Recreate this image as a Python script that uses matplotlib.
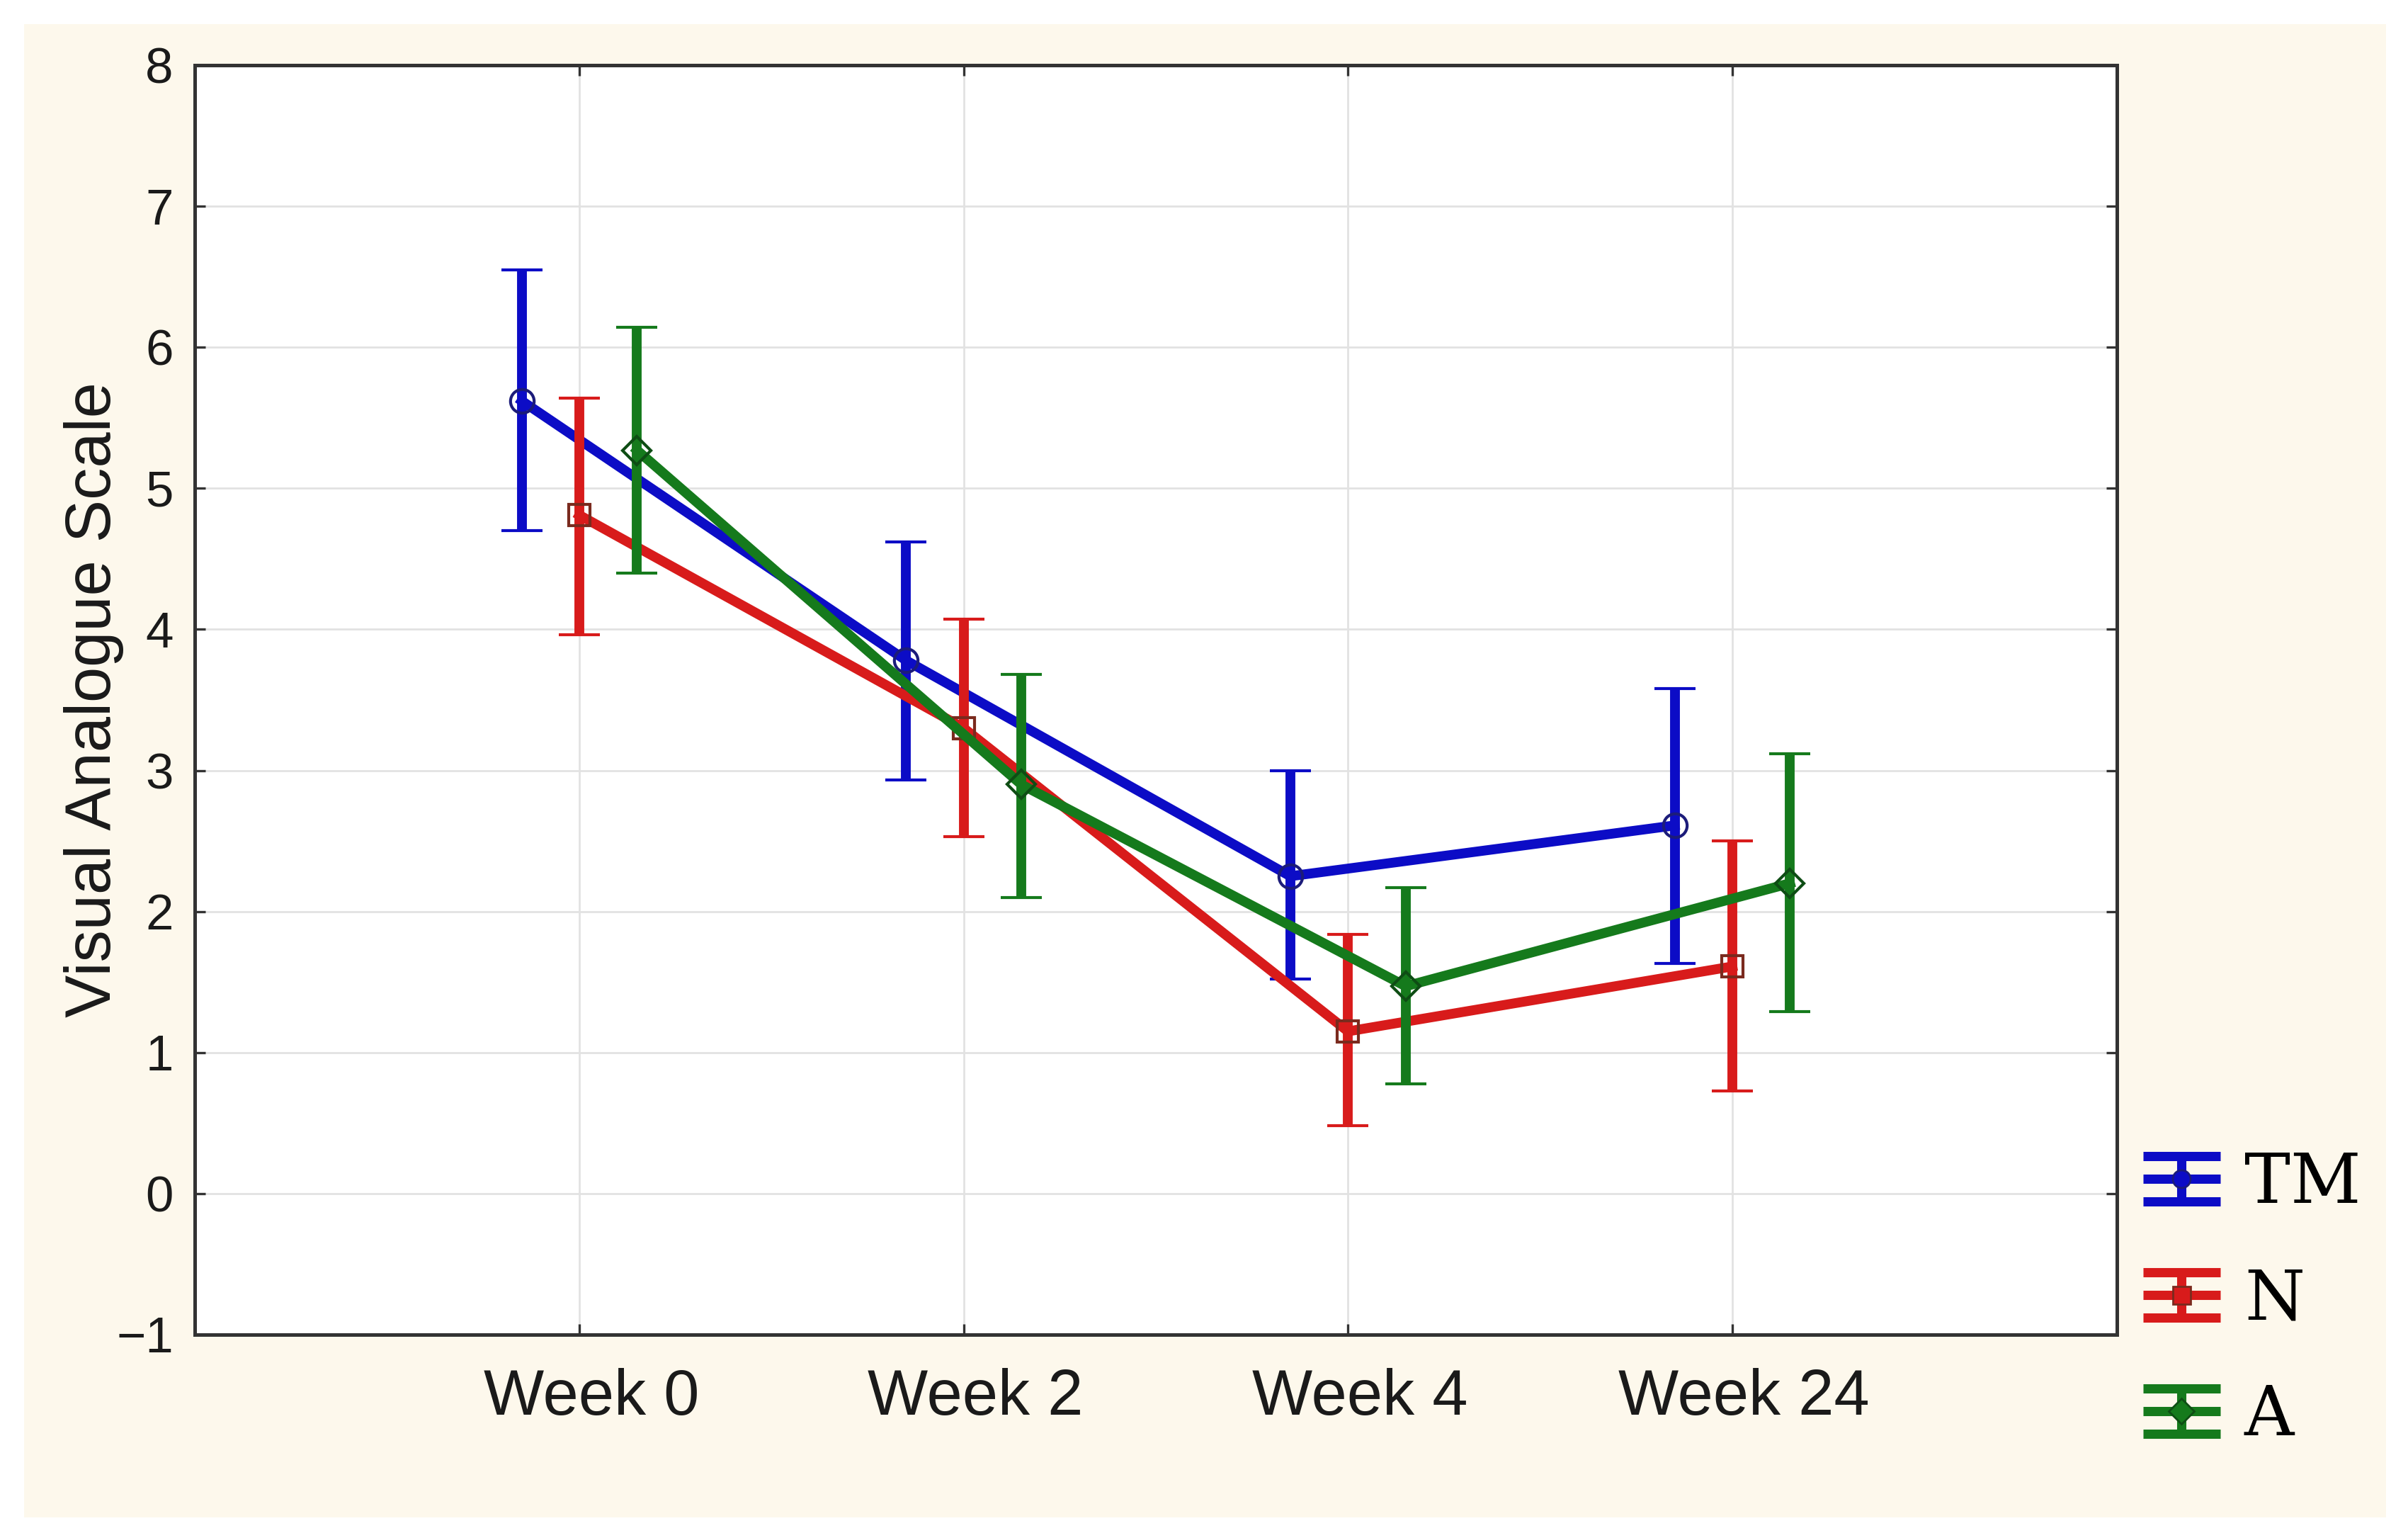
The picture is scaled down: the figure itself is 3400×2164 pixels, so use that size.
import matplotlib
matplotlib.use("Agg")
import matplotlib.pyplot as plt
import numpy as np
from matplotlib.lines import Line2D
from matplotlib.legend_handler import HandlerBase
from matplotlib.patches import Rectangle
from matplotlib.transforms import ScaledTranslation

# ---------------- data ----------------
weeks = ["Week 0", "Week 2", "Week 4", "Week 24"]
groups = ["TM", "N", "A"]

tm_mean = [5.62, 3.78, 2.25, 2.61]
tm_low = [4.70, 2.93, 1.52, 1.63]
tm_high = [6.55, 4.62, 3.00, 3.58]

n_mean = [4.81, 3.30, 1.15, 1.61]
n_low = [3.96, 2.53, 0.48, 0.73]
n_high = [5.64, 4.07, 1.84, 2.50]

a_mean = [5.27, 2.90, 1.47, 2.20]
a_low = [4.40, 2.10, 0.78, 1.29]
a_high = [6.14, 3.68, 2.17, 3.12]

y_ticks = [-1, 0, 1, 2, 3, 4, 5, 6, 7, 8]
y_label = "Visual Analogue Scale"

# ---------------- style ----------------
colors = ["#0c0cc6", "#d81b1b", "#157a1c"]
edge_colors = ["#1c1c7a", "#7a2a1e", "#0e4d14"]
markers = ["o", "s", "D"]
marker_sizes = [12, 11, 10]
offsets = [-0.15, 0.0, 0.15]
LW = 5.0

plt.rcParams["font.family"] = ["Liberation Sans", "DejaVu Sans"]

fig = plt.figure(figsize=(17, 10.82), dpi=200, facecolor="white")
fig.patches.append(Rectangle((0.010, 0.0102), 0.981, 0.974,
                             transform=fig.transFigure,
                             facecolor="#fdf8ec", edgecolor="none", zorder=-10))

ax = fig.add_axes([0.081, 0.1294, 0.798, 0.8281])
ax.set_facecolor("white")

x = np.arange(len(weeks))
series = [(tm_mean, tm_low, tm_high), (n_mean, n_low, n_high), (a_mean, a_low, a_high)]

for i, (mean, low, high) in enumerate(series):
    mean = np.array(mean)
    yerr = [mean - np.array(low), np.array(high) - mean]
    ax.errorbar(x + offsets[i], mean, yerr=yerr, color=colors[i], lw=LW,
                marker=markers[i], ms=marker_sizes[i], mfc="none",
                mec=edge_colors[i], mew=1.5, elinewidth=LW, capsize=10.5,
                capthick=LW, zorder=3 + i)

ax.set_xlim(-1, 4)
ax.set_ylim(-1, 8)
ax.set_yticks(y_ticks)
ax.set_xticks(x)
ax.set_xticklabels(weeks)

ax.grid(True, color="#e2e2e2", lw=1.0, zorder=0)
ax.set_axisbelow(True)

for sp in ax.spines.values():
    sp.set_color("#333333")
    sp.set_linewidth(1.8)

ax.tick_params(axis="both", direction="in", length=5.5, width=1.2,
               color="#333333", top=True, right=True)
ax.tick_params(axis="y", labelsize=25.5, pad=11, labelcolor="#1a1a1a")
ax.tick_params(axis="x", labelsize=32.5, pad=17, labelcolor="#1a1a1a")

shift = ScaledTranslation(6 / 72, 0, fig.dpi_scale_trans)
for lab in ax.get_xticklabels():
    lab.set_transform(lab.get_transform() + shift)

ax.set_ylabel(y_label, fontsize=32.5, color="#1a1a1a", labelpad=-4)


# ---------------- legend ----------------
class IBarHandler(HandlerBase):
    def create_artists(self, legend, orig_handle, xdescent, ydescent,
                       width, height, fontsize, trans):
        col = orig_handle.get_color()
        mec = orig_handle.get_markeredgecolor()
        mk = orig_handle.get_marker()
        x0, x1 = -xdescent, -xdescent + width
        xc = (x0 + x1) / 2
        cy = height / 2 - ydescent
        h = 11.5
        lw = 4.7
        arts = []
        for yy in (cy + h, cy, cy - h):
            arts.append(Line2D([x0, x1], [yy, yy], color=col, lw=lw,
                               solid_capstyle="butt"))
        arts.append(Line2D([xc, xc], [cy - h, cy + h], color=col, lw=lw,
                           solid_capstyle="butt"))
        arts.append(Line2D([xc], [cy], ls="none", marker=mk, ms=9,
                           mfc=col, mec=mec, mew=1.0))
        for a in arts:
            a.set_transform(trans)
        return arts


handles = [Line2D([], [], color=colors[i], marker=markers[i], mec=edge_colors[i])
           for i in range(3)]

fig.legend(handles, groups, loc="center left", bbox_to_anchor=(0.890, 0.152),
           frameon=False, borderpad=0, borderaxespad=0,
           prop={"family": "DejaVu Serif", "size": 35},
           handlelength=1.12, handleheight=0.7, handletextpad=0.35,
           labelspacing=0.72,
           handler_map={Line2D: IBarHandler()})

fig.savefig("out.png", dpi=200, facecolor="white")
